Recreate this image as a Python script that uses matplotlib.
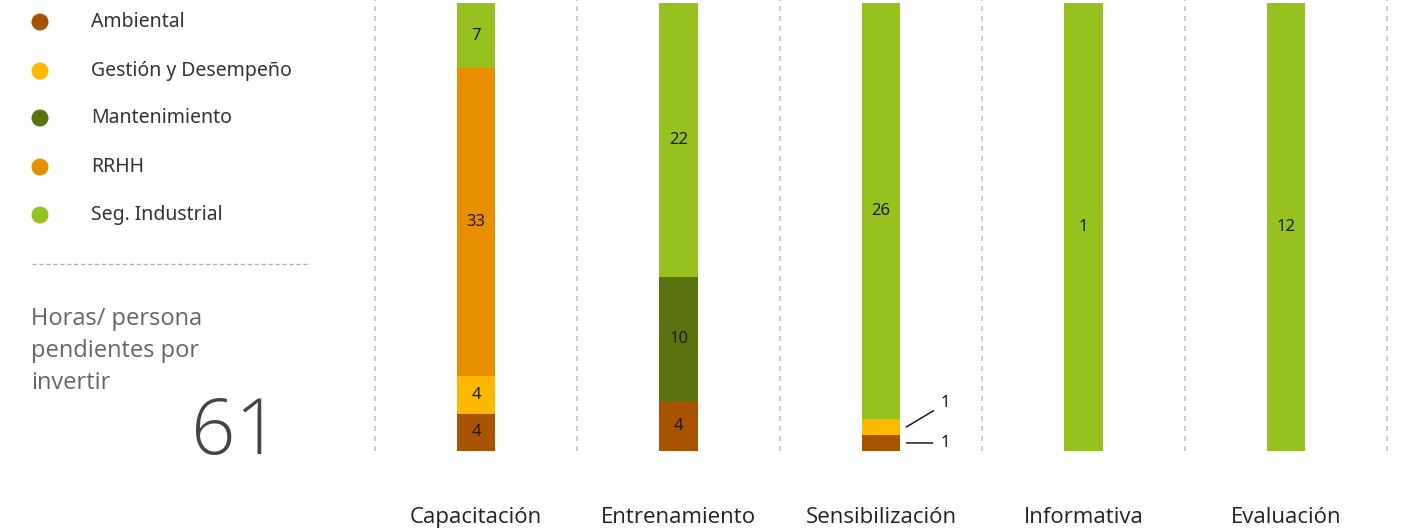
import matplotlib
matplotlib.use("Agg")
import matplotlib.pyplot as plt
import numpy as np

# ---- data ----
categories = ["Capacitación", "Entrenamiento", "Sensibilización", "Informativa", "Evaluación"]
series = ["Ambiental", "Gestión y Desempeño", "Mantenimiento", "RRHH", "Seg. Industrial"]
ambiental = [4, 4, 1, 0, 0]
gestion = [4, 0, 1, 0, 0]
mantenimiento = [0, 10, 0, 0, 0]
rrhh = [33, 0, 0, 0, 0]
seg_industrial = [7, 22, 26, 1, 12]
total_pending = 61
summary_text = "Horas/ persona\npendientes por\ninvertir"

colors = ["#A85300", "#FDB900", "#5A7311", "#E88F00", "#97C11F"]

values = np.array([ambiental, gestion, mantenimiento, rrhh, seg_industrial], dtype=float)
shares = values / values.sum(axis=0) * 100

W, H = 1402, 530
fig = plt.figure(figsize=(W / 100, H / 100), dpi=100)

# ---- stacked 100% bars ----
ax = fig.add_axes([375 / W, (H - 451) / H, (1387 - 375) / W, 448 / H])
x = np.arange(len(categories))
bar_w = 0.19
bottom = np.zeros(len(categories))
label_font = dict(family="Noto Sans", fontsize=12, color="#1a1a1a")
for i, name in enumerate(series):
    ax.bar(x, shares[i], bottom=bottom, width=bar_w, color=colors[i],
           edgecolor="none", zorder=3)
    for j in range(len(categories)):
        v = values[i, j]
        if v <= 0:
            continue
        yc = bottom[j] + shares[i, j] / 2
        if shares[i, j] >= 6:
            ax.text(x[j], yc, f"{int(v)}", ha="center", va="center", zorder=4, **label_font)
        else:
            # small segment: label outside with a leader line
            dy = 17 if i > 0 else 0
            ax.annotate(f"{int(v)}", xy=(x[j] + bar_w / 2 + 0.03, yc),
                        xytext=(25, dy), textcoords="offset points",
                        ha="left", va="center", zorder=4,
                        arrowprops=dict(arrowstyle="-", color="#1a1a1a", lw=1.1,
                                        shrinkA=4, shrinkB=0),
                        **label_font)
    bottom += shares[i]

ax.set_xlim(-0.5, len(categories) - 0.5)
ax.set_ylim(0, 100)
for b in np.arange(-0.5, len(categories), 1.0):
    ax.axvline(b, ymin=0, ymax=1.01, color="#c4c4c4", lw=1.2, ls=(0, (3, 3)),
               clip_on=False, zorder=1)
ax.set_xticks(x)
ax.set_xticklabels(categories, family="Open Sans", fontsize=16, color="#222222")
ax.tick_params(axis="x", length=0, pad=40)
ax.set_yticks([])
for s in ax.spines.values():
    s.set_visible(False)

# ---- left panel: legend and summary ----
pan = fig.add_axes([0, 0, 1, 1], facecolor="none")
pan.set_xlim(0, W)
pan.set_ylim(H, 0)
pan.axis("off")
legend_y = [22, 71, 118, 167, 215]
for name, c, yy in zip(series, colors, legend_y):
    pan.scatter([40], [yy], s=150, color=c, edgecolors="none")
    pan.text(91, yy, name, family="Noto Sans", fontsize=14, color="#333333",
             ha="left", va="center")
pan.plot([32, 310], [264, 264], color="#b0b0b0", lw=1, ls=(0, (3, 2)))
pan.text(31, 351, summary_text, family="Open Sans", fontsize=17, color="#666666",
         ha="left", va="center", linespacing=1.42)
pan.text(235, 434, f"{total_pending}", family="Open Sans", fontsize=56, color="#444444",
         ha="center", va="center", fontweight="light")

fig.savefig("out.png", dpi=100)
